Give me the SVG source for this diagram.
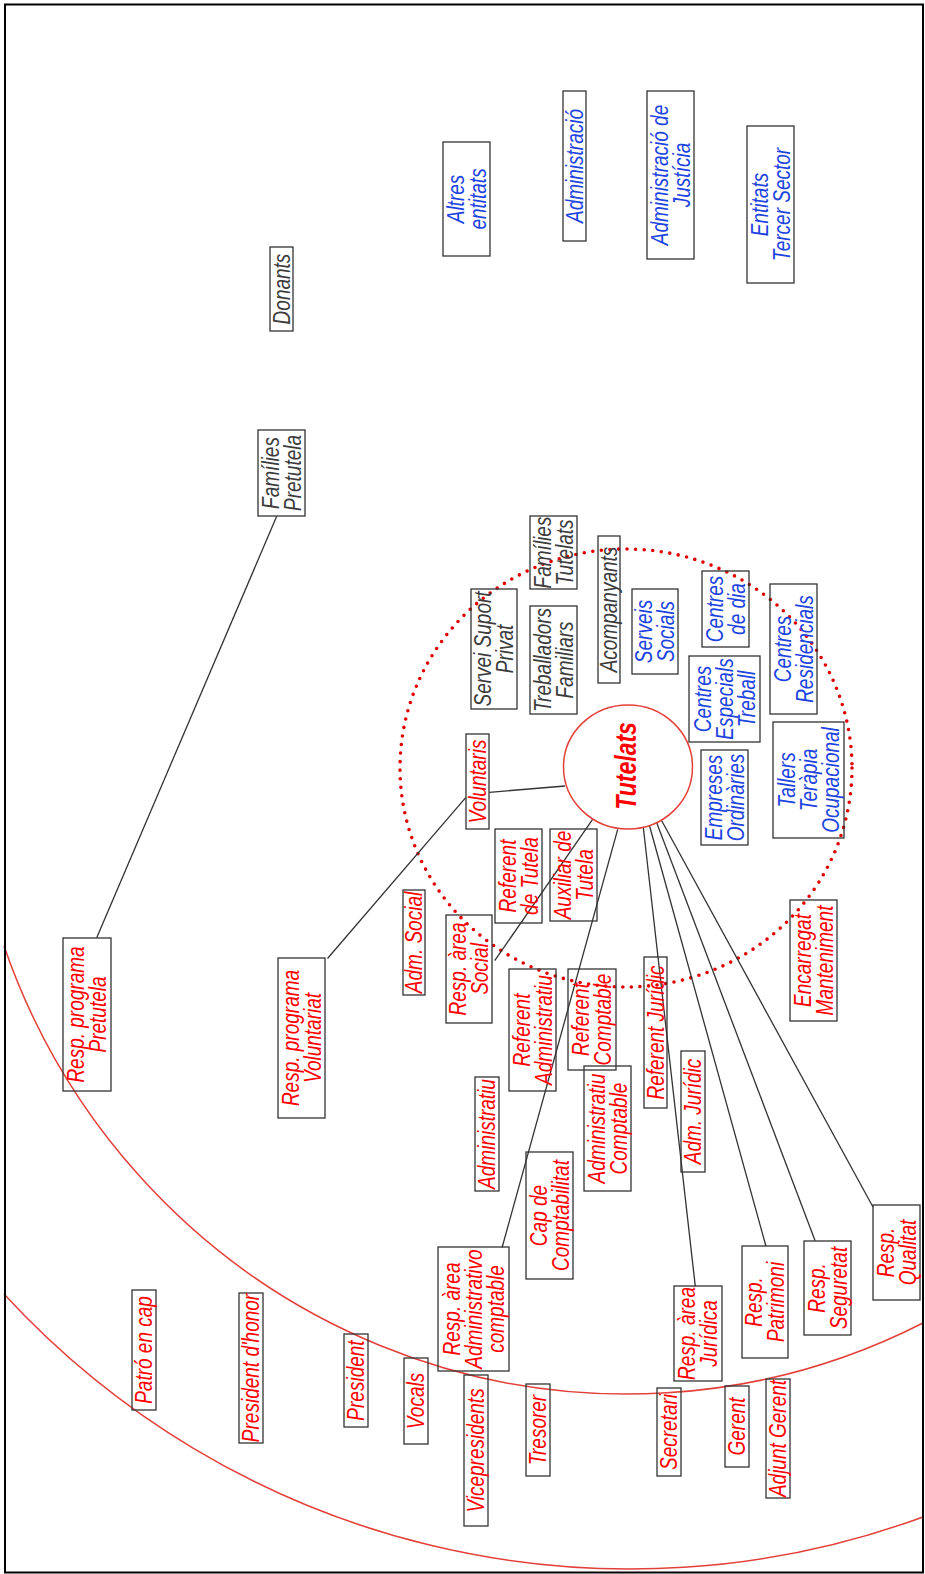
<svg xmlns="http://www.w3.org/2000/svg" width="925" height="1574" viewBox="0 0 925 1574">
<style>
.bx{fill:none;stroke:#333;stroke-width:1.3}
.t{font-family:"Liberation Sans",Arial,sans-serif;font-style:italic;font-size:19px;text-anchor:middle}
.r{fill:#ff0000}
.b{fill:#1d44e0}
.g{fill:#3c3c3c}
.arc{fill:none;stroke:#e3403a;stroke-width:1.5}
.cn{stroke:#333;stroke-width:1.3;fill:none}
</style>
<rect width="925" height="1574" fill="#fff"/>
<g id="rings">
<path class="arc" d="M4,946 A660,669 0 0,0 923,1323"/>
<path class="arc" d="M4,1294 A850,850 0 0,0 923,1517"/>
<ellipse cx="626" cy="768" rx="226" ry="219" fill="none" stroke="#e00000" stroke-width="3.6" stroke-linecap="round" stroke-dasharray="0 8.6"/>
</g>
<g id="connectors">
<line class="cn" x1="276.7" y1="516.3" x2="96.7" y2="937.7"/>
<line class="cn" x1="489.3" y1="792.3" x2="565" y2="786"/>
<line class="cn" x1="465.7" y1="797.7" x2="327.5" y2="958.5"/>
<line class="cn" x1="593.3" y1="818.3" x2="494.7" y2="960.7"/>
<line class="cn" x1="617.7" y1="829.3" x2="502.1" y2="1247.5"/>
<line class="cn" x1="643.3" y1="827.3" x2="695.3" y2="1286.4"/>
<line class="cn" x1="649.3" y1="825" x2="765.9" y2="1246"/>
<line class="cn" x1="656.7" y1="822.7" x2="815.1" y2="1240.8"/>
<line class="cn" x1="661.7" y1="820.7" x2="873" y2="1207"/>
</g>
<g id="n-donants"><rect class="bx" x="270" y="247" width="23" height="84"/><text class="t g" transform="translate(281.5,289) rotate(-90) scale(1,1.25)"><tspan x="0" y="6.6">Donants</tspan></text></g>
<g id="n-families-pretutela"><rect class="bx" x="258" y="430" width="47" height="86"/><text class="t g" transform="translate(281.5,473) rotate(-90) scale(1,1.25)"><tspan x="0" y="-2.2">Famílies</tspan><tspan x="0" y="15.4">Pretutela</tspan></text></g>
<g id="n-servei-suport"><rect class="bx" x="471" y="589" width="46" height="120"/><text class="t g" transform="translate(494,649) rotate(-90) scale(1,1.25)"><tspan x="0" y="-2.2">Servei Suport</tspan><tspan x="0" y="15.4">Privat</tspan></text></g>
<g id="n-families-tutelats"><rect class="bx" x="530" y="516" width="47" height="73"/><text class="t g" transform="translate(553.5,552.5) rotate(-90) scale(1,1.25)"><tspan x="0" y="-2.2">Famílies</tspan><tspan x="0" y="15.4">Tutelats</tspan></text></g>
<g id="n-treballadors"><rect class="bx" x="530" y="606" width="47" height="108"/><text class="t g" transform="translate(553.5,660) rotate(-90) scale(1,1.25)"><tspan x="0" y="-2.2">Treballadors</tspan><tspan x="0" y="15.4">Familiars</tspan></text></g>
<g id="n-acompanyants"><rect class="bx" x="598" y="536" width="22" height="147"/><text class="t g" transform="translate(609,609.5) rotate(-90) scale(1,1.25)"><tspan x="0" y="6.6">Acompanyants</tspan></text></g>
<g id="n-altres-entitats"><rect class="bx" x="443" y="142" width="47" height="114"/><text class="t b" transform="translate(466.5,199) rotate(-90) scale(1,1.25)"><tspan x="0" y="-2.2">Altres</tspan><tspan x="0" y="15.4">entitats</tspan></text></g>
<g id="n-administracio"><rect class="bx" x="563" y="91" width="23" height="150"/><text class="t b" transform="translate(574.5,166) rotate(-90) scale(1,1.25)"><tspan x="0" y="6.6">Administració</tspan></text></g>
<g id="n-adm-justicia"><rect class="bx" x="647" y="91" width="47" height="168"/><text class="t b" transform="translate(670.5,175) rotate(-90) scale(1,1.25)"><tspan x="0" y="-2.2">Administració de</tspan><tspan x="0" y="15.4">Justícia</tspan></text></g>
<g id="n-entitats-tercer"><rect class="bx" x="747" y="126" width="47" height="157"/><text class="t b" transform="translate(770.5,204.5) rotate(-90) scale(1,1.25)"><tspan x="0" y="-2.2">Entitats</tspan><tspan x="0" y="15.4">Tercer Sector</tspan></text></g>
<g id="n-serveis-socials"><rect class="bx" x="632" y="589" width="46" height="85"/><text class="t b" transform="translate(655,631.5) rotate(-90) scale(1,1.25)"><tspan x="0" y="-2.2">Serveis</tspan><tspan x="0" y="15.4">Socials</tspan></text></g>
<g id="n-centres-dia"><rect class="bx" x="702" y="571" width="47" height="76"/><text class="t b" transform="translate(725.5,609) rotate(-90) scale(1,1.25)"><tspan x="0" y="-2.2">Centres</tspan><tspan x="0" y="15.4">de dia</tspan></text></g>
<g id="n-centres-residencials"><rect class="bx" x="770" y="584" width="47" height="130"/><text class="t b" transform="translate(793.5,649) rotate(-90) scale(1,1.25)"><tspan x="0" y="-2.2">Centres</tspan><tspan x="0" y="15.4">Residencials</tspan></text></g>
<g id="n-centres-especials"><rect class="bx" x="689" y="656" width="71" height="86"/><text class="t b" transform="translate(724.5,699) rotate(-90) scale(1,1.25)"><tspan x="0" y="-11">Centres</tspan><tspan x="0" y="6.6">Especials</tspan><tspan x="0" y="24.2">Treball</tspan></text></g>
<g id="n-empreses"><rect class="bx" x="701" y="750" width="47" height="95"/><text class="t b" transform="translate(724.5,797.5) rotate(-90) scale(1,1.25)"><tspan x="0" y="-2.2">Empreses</tspan><tspan x="0" y="15.4">Ordinàries</tspan></text></g>
<g id="n-tallers"><rect class="bx" x="773" y="722" width="71" height="116"/><text class="t b" transform="translate(808.5,780) rotate(-90) scale(1,1.25)"><tspan x="0" y="-11">Tallers</tspan><tspan x="0" y="6.6">Teràpia</tspan><tspan x="0" y="24.2">Ocupacional</tspan></text></g>
<g id="n-tutelats"><ellipse cx="628" cy="767" rx="64.5" ry="62" fill="#fff" stroke="#e3403a" stroke-width="1.5"/><text class="t r" font-weight="bold" font-size="23" transform="translate(628,766) rotate(-90) scale(1,1.25)"><tspan x="0" y="6.5" font-size="23px">Tutelats</tspan></text></g>
<g id="n-voluntaris"><rect class="bx" x="466" y="734" width="23" height="95"/><text class="t r" transform="translate(477.5,781.5) rotate(-90) scale(1,1.25)"><tspan x="0" y="6.6">Voluntaris</tspan></text></g>
<g id="n-referent-tutela"><rect class="bx" x="495" y="829" width="47" height="94"/><text class="t r" transform="translate(518.5,876) rotate(-90) scale(1,1.25)"><tspan x="0" y="-2.2">Referent</tspan><tspan x="0" y="15.4">de Tutela</tspan></text></g>
<g id="n-auxiliar-tutela"><rect class="bx" x="550" y="829" width="47" height="92"/><text class="t r" transform="translate(573.5,875) rotate(-90) scale(1,1.25)"><tspan x="0" y="-2.2">Auxiliar de</tspan><tspan x="0" y="15.4">Tutela</tspan></text></g>
<g id="n-adm-social"><rect class="bx" x="403" y="890" width="22" height="105"/><text class="t r" transform="translate(414,942.5) rotate(-90) scale(1,1.25)"><tspan x="0" y="6.6">Adm. Social</tspan></text></g>
<g id="n-resp-social"><rect class="bx" x="446" y="915" width="46" height="108"/><text class="t r" transform="translate(469,969) rotate(-90) scale(1,1.25)"><tspan x="0" y="-2.2">Resp. àrea</tspan><tspan x="0" y="15.4">Social</tspan></text></g>
<g id="n-referent-administratiu"><rect class="bx" x="509" y="969" width="47" height="122"/><text class="t r" transform="translate(532.5,1030) rotate(-90) scale(1,1.25)"><tspan x="0" y="-2.2">Referent</tspan><tspan x="0" y="15.4">Administratiu</tspan></text></g>
<g id="n-referent-comptable"><rect class="bx" x="568" y="969" width="48" height="101"/><text class="t r" transform="translate(592,1019.5) rotate(-90) scale(1,1.25)"><tspan x="0" y="-2.2">Referent</tspan><tspan x="0" y="15.4">Comptable</tspan></text></g>
<g id="n-administratiu-comptable"><rect class="bx" x="584" y="1066" width="47" height="125"/><text class="t r" transform="translate(607.5,1128.5) rotate(-90) scale(1,1.25)"><tspan x="0" y="-2.2">Administratiu</tspan><tspan x="0" y="15.4">Comptable</tspan></text></g>
<g id="n-referent-juridic"><rect class="bx" x="644" y="957" width="23" height="151"/><text class="t r" transform="translate(655.5,1032.5) rotate(-90) scale(1,1.25)"><tspan x="0" y="6.6">Referent Jurídic</tspan></text></g>
<g id="n-adm-juridic"><rect class="bx" x="681" y="1051" width="24" height="121"/><text class="t r" transform="translate(693,1111.5) rotate(-90) scale(1,1.25)"><tspan x="0" y="6.6">Adm. Jurídic</tspan></text></g>
<g id="n-administratiu"><rect class="bx" x="475" y="1077" width="24" height="114"/><text class="t r" transform="translate(487,1134) rotate(-90) scale(1,1.25)"><tspan x="0" y="6.6">Administratiu</tspan></text></g>
<g id="n-cap-comptabilitat"><rect class="bx" x="526" y="1152" width="47" height="127"/><text class="t r" transform="translate(549.5,1215.5) rotate(-90) scale(1,1.25)"><tspan x="0" y="-2.2">Cap de</tspan><tspan x="0" y="15.4">Comptabilitat</tspan></text></g>
<g id="n-encarregat"><rect class="bx" x="790" y="900" width="47" height="121"/><text class="t r" transform="translate(813.5,960.5) rotate(-90) scale(1,1.25)"><tspan x="0" y="-2.2">Encarregat</tspan><tspan x="0" y="15.4">Manteniment</tspan></text></g>
<g id="n-resp-qualitat"><rect class="bx" x="873" y="1205" width="47" height="95"/><text class="t r" transform="translate(896.5,1252.5) rotate(-90) scale(1,1.25)"><tspan x="0" y="-2.2">Resp.</tspan><tspan x="0" y="15.4">Qualitat</tspan></text></g>
<g id="n-resp-seguretat"><rect class="bx" x="804" y="1241" width="47" height="94"/><text class="t r" transform="translate(827.5,1288) rotate(-90) scale(1,1.25)"><tspan x="0" y="-2.2">Resp.</tspan><tspan x="0" y="15.4">Seguretat</tspan></text></g>
<g id="n-resp-patrimoni"><rect class="bx" x="742" y="1246" width="46" height="112"/><text class="t r" transform="translate(765,1302) rotate(-90) scale(1,1.25)"><tspan x="0" y="-2.2">Resp.</tspan><tspan x="0" y="15.4">Patrimoni</tspan></text></g>
<g id="n-resp-juridica"><rect class="bx" x="674" y="1286" width="48" height="95"/><text class="t r" transform="translate(698,1333.5) rotate(-90) scale(1,1.25)"><tspan x="0" y="-2.2">Resp. àrea</tspan><tspan x="0" y="15.4">Jurídica</tspan></text></g>
<g id="n-adjunt-gerent"><rect class="bx" x="766" y="1379" width="24" height="119"/><text class="t r" transform="translate(778,1438.5) rotate(-90) scale(1,1.25)"><tspan x="0" y="6.6">Adjunt Gerent</tspan></text></g>
<g id="n-gerent"><rect class="bx" x="725" y="1386" width="24" height="81"/><text class="t r" transform="translate(737,1426.5) rotate(-90) scale(1,1.25)"><tspan x="0" y="6.6">Gerent</tspan></text></g>
<g id="n-secretari"><rect class="bx" x="657" y="1388" width="24" height="88"/><text class="t r" transform="translate(669,1432) rotate(-90) scale(1,1.25)"><tspan x="0" y="6.6">Secretari</tspan></text></g>
<g id="n-tresorer"><rect class="bx" x="526" y="1384" width="24" height="92"/><text class="t r" transform="translate(538,1430) rotate(-90) scale(1,1.25)"><tspan x="0" y="6.6">Tresorer</tspan></text></g>
<g id="n-vicepresidents"><rect class="bx" x="464" y="1375" width="24" height="151"/><text class="t r" transform="translate(476,1450.5) rotate(-90) scale(1,1.25)"><tspan x="0" y="6.6">Vicepresidents</tspan></text></g>
<g id="n-vocals"><rect class="bx" x="404" y="1358" width="24" height="86"/><text class="t r" transform="translate(416,1401) rotate(-90) scale(1,1.25)"><tspan x="0" y="6.6">Vocals</tspan></text></g>
<g id="n-resp-adm-comptable"><rect class="bx" x="438" y="1247" width="71" height="124"/><text class="t r" transform="translate(473.5,1309) rotate(-90) scale(1,1.25)"><tspan x="0" y="-11">Resp. àrea</tspan><tspan x="0" y="6.6">Administrativo</tspan><tspan x="0" y="24.2">comptable</tspan></text></g>
<g id="n-patro"><rect class="bx" x="132" y="1290" width="24" height="120"/><text class="t r" transform="translate(144,1350) rotate(-90) scale(1,1.25)"><tspan x="0" y="6.6">Patró en cap</tspan></text></g>
<g id="n-president-honor"><rect class="bx" x="239" y="1293" width="24" height="150"/><text class="t r" transform="translate(251,1368) rotate(-90) scale(1,1.25)"><tspan x="0" y="6.6">President d'honor</tspan></text></g>
<g id="n-president"><rect class="bx" x="344" y="1334" width="24" height="93"/><text class="t r" transform="translate(356,1380.5) rotate(-90) scale(1,1.25)"><tspan x="0" y="6.6">President</tspan></text></g>
<g id="n-resp-pretutela"><rect class="bx" x="63" y="938" width="48" height="153"/><text class="t r" transform="translate(87,1014.5) rotate(-90) scale(1,1.25)"><tspan x="0" y="-2.2">Resp. programa</tspan><tspan x="0" y="15.4">Pretutela</tspan></text></g>
<g id="n-resp-voluntariat"><rect class="bx" x="278" y="958" width="47" height="160"/><text class="t r" transform="translate(301.5,1038) rotate(-90) scale(1,1.25)"><tspan x="0" y="-2.2">Resp. programa</tspan><tspan x="0" y="15.4">Voluntariat</tspan></text></g>
<rect id="frame" x="5" y="4.5" width="918" height="1568" fill="none" stroke="#000" stroke-width="2"/>
</svg>
